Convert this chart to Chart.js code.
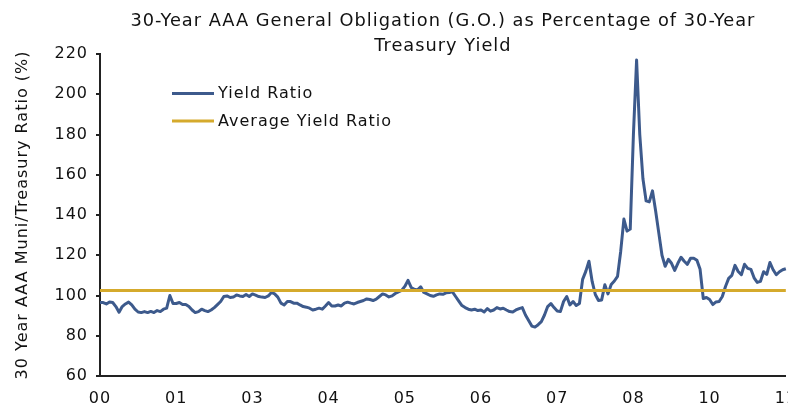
<!DOCTYPE html>
<html>
<head>
<meta charset="utf-8">
<title>30-Year AAA G.O. / Treasury Yield Ratio</title>
<script src="https://cdn.jsdelivr.net/npm/chart.js@4.4.0/dist/chart.umd.min.js"></script>
<style>
    html, body { margin: 0; padding: 0; background: #fff; overflow: hidden; }
    #wrap { position: relative; width: 788px; height: 406px; overflow: hidden; }
    /* canvas is wider than the window so the last year label gets cut off like the original */
    #ratioChart { display: block; }
</style>
</head>
<body>
<div id="wrap"><canvas id="ratioChart" width="810" height="406"></canvas></div>
<script>
// =====================
// Data (roughly weekly samples)
// =====================
const yearTicks = ['00', '01', '03', '04', '05', '06', '07', '08', '10', '11'];
const pointsPerTick = 24;

const yieldRatio = [
    // 00 -> 01
    96.5, 96.5, 95.8, 96.8, 96.5, 94.5, 91.7, 94.5, 95.8, 96.7, 95.3, 93.2,
    91.8, 91.5, 92, 91.5, 92.1, 91.5, 92.5, 92, 93.2, 93.7, 100, 96,
    // 01 -> 03
    96, 96.5, 95.5, 95.5, 94.5, 92.8, 91.5, 92, 93.2, 92.5, 92, 92.8,
    94, 95.5, 97, 99.5, 99.8, 99, 99.2, 100.3, 99.8, 99.5, 100.5, 99.5,
    // 03 -> 04
    100.8, 100.2, 99.5, 99.2, 99, 99.8, 101.5, 100.8, 99.2, 96.2, 95.3, 97,
    97, 96.2, 96.2, 95.3, 94.5, 94.2, 93.7, 92.8, 93.2, 93.7, 93.2, 94.8,
    // 04 -> 05
    96.5, 94.8, 94.8, 95.3, 94.8, 96.2, 96.7, 96.2, 95.8, 96.5, 97, 97.5,
    98.3, 98, 97.5, 98.2, 99.5, 100.8, 100.3, 99.3, 99.8, 101, 101.8, 102.5,
    // 05 -> 06
    104.5, 107.5, 104, 103.1, 102.8, 104.3, 101.5, 100.8, 100, 99.6, 100.3, 100.8,
    100.6, 101.3, 101.5, 101.8, 99.5, 97.2, 95, 94, 93.2, 92.8, 93.2, 92.5,
    // 06 -> 07
    92.8, 91.8, 93.5, 92.2, 92.8, 94, 93.3, 93.7, 92.8, 92, 91.8, 92.8,
    93.5, 94, 90.3, 87.6, 84.8, 84.3, 85.5, 87, 90.3, 94.5, 96, 94,
    // 07 -> 08
    92.3, 92, 97, 99.5, 95.3, 97, 95, 96, 108, 112, 117, 107,
    100.5, 97.5, 97.8, 105.3, 100.8, 105.5, 107.2, 109.5, 122, 138, 132, 133,
    // 08 -> 10
    180, 217, 180, 158, 147, 146.5, 152, 142, 131, 120, 114.5, 118,
    116, 112.5, 116, 119, 117, 115.5, 118.5, 118.5, 117.5, 113, 98.5, 99,
    // 10 -> 11
    98, 95.5, 96.8, 97, 99.5, 104.5, 108.5, 110, 115, 111.9, 110.3, 115.5,
    113.5, 113, 108.8, 106.5, 107, 111.8, 110.5, 116.4, 112.8, 110.3, 111.8, 112.8,
    113.3
];

const averageRatio = 102.5;

const yMin = 60;
const yMax = 220;
const yStep = 20;

// category labels: a year tick every pointsPerTick points, blanks in between
const labels = yieldRatio.map((v, i) => (i % pointsPerTick === 0 ? yearTicks[i / pointsPerTick] : ''));
const averageLine = yieldRatio.map(() => averageRatio);

// =====================
// Plugins
// =====================

// the original text is drawn with a little extra tracking
const letterSpacing = {
    id: 'letterSpacing',
    beforeUpdate(chart) { chart.ctx.letterSpacing = '1px'; },
    beforeDraw(chart) { chart.ctx.letterSpacing = '1px'; }
};

// legend sits inside the plot area, stacked vertically
const insideLegend = {
    id: 'insideLegend',
    afterDraw(chart) {
        const { ctx, chartArea } = chart;
        ctx.save();
        ctx.font = "16px 'DejaVu Sans', Verdana, sans-serif";
        ctx.textBaseline = 'middle';
        ctx.textAlign = 'left';
        ctx.fillStyle = '#111';
        chart.data.datasets.forEach((ds, i) => {
            const x = chartArea.left + 72;
            const y = chartArea.top + 39.5 + i * 27.5;
            ctx.strokeStyle = ds.borderColor;
            ctx.lineWidth = 3;
            ctx.beginPath();
            ctx.moveTo(x, y);
            ctx.lineTo(x + 42, y);
            ctx.stroke();
            ctx.fillText(ds.label, x + 46, y + 0.5);
        });
        ctx.restore();
    }
};

// =====================
// Chart
// =====================
Chart.defaults.font.family = "'DejaVu Sans', Verdana, sans-serif";
Chart.defaults.color = '#111';

new Chart(document.getElementById('ratioChart'), {
    type: 'line',
    data: {
        labels: labels,
        datasets: [{
            label: 'Yield Ratio',
            data: yieldRatio,
            borderColor: '#3d5a8c',
            borderWidth: 3,
            borderJoinStyle: 'round',
            pointRadius: 0,
            tension: 0,
            order: 1
        }, {
            label: 'Average Yield Ratio',
            data: averageLine,
            borderColor: '#d5aa2c',
            borderWidth: 3,
            pointRadius: 0,
            tension: 0,
            order: 0
        }]
    },
    options: {
        responsive: false,
        animation: false,
        events: [],
        layout: { padding: 0 },
        plugins: {
            legend: { display: false },
            tooltip: { enabled: false },
            title: {
                display: true,
                text: ['30-Year AAA General Obligation (G.O.) as Percentage of 30-Year', 'Treasury Yield'],
                fullSize: false,
                color: '#111',
                font: { size: 17.8, weight: 'normal', lineHeight: '25px' },
                padding: { top: 9, bottom: -5 }
            }
        },
        scales: {
            x: {
                ticks: {
                    autoSkip: false,
                    maxRotation: 0,
                    minRotation: 0,
                    padding: 13,
                    font: { size: 16 }
                },
                grid: { display: false, drawTicks: false },
                border: { display: true, color: '#222', width: 2 },
                afterFit(scale) { scale.height = 30; }
            },
            y: {
                min: yMin,
                max: yMax,
                ticks: { stepSize: yStep, padding: 8, font: { size: 16 } },
                grid: {
                    display: true,
                    drawOnChartArea: false,
                    drawTicks: true,
                    tickLength: 4,
                    color: '#222',
                    lineWidth: 2
                },
                border: { display: true, color: '#222', width: 2 },
                title: {
                    display: true,
                    text: '30 Year AAA Muni/Treasury Ratio (%)',
                    font: { size: 16 },
                    padding: { top: 13, bottom: 0 }
                },
                afterFit(scale) { scale.width = 100; }
            }
        }
    },
    plugins: [letterSpacing, insideLegend]
});
</script>
</body>
</html>
